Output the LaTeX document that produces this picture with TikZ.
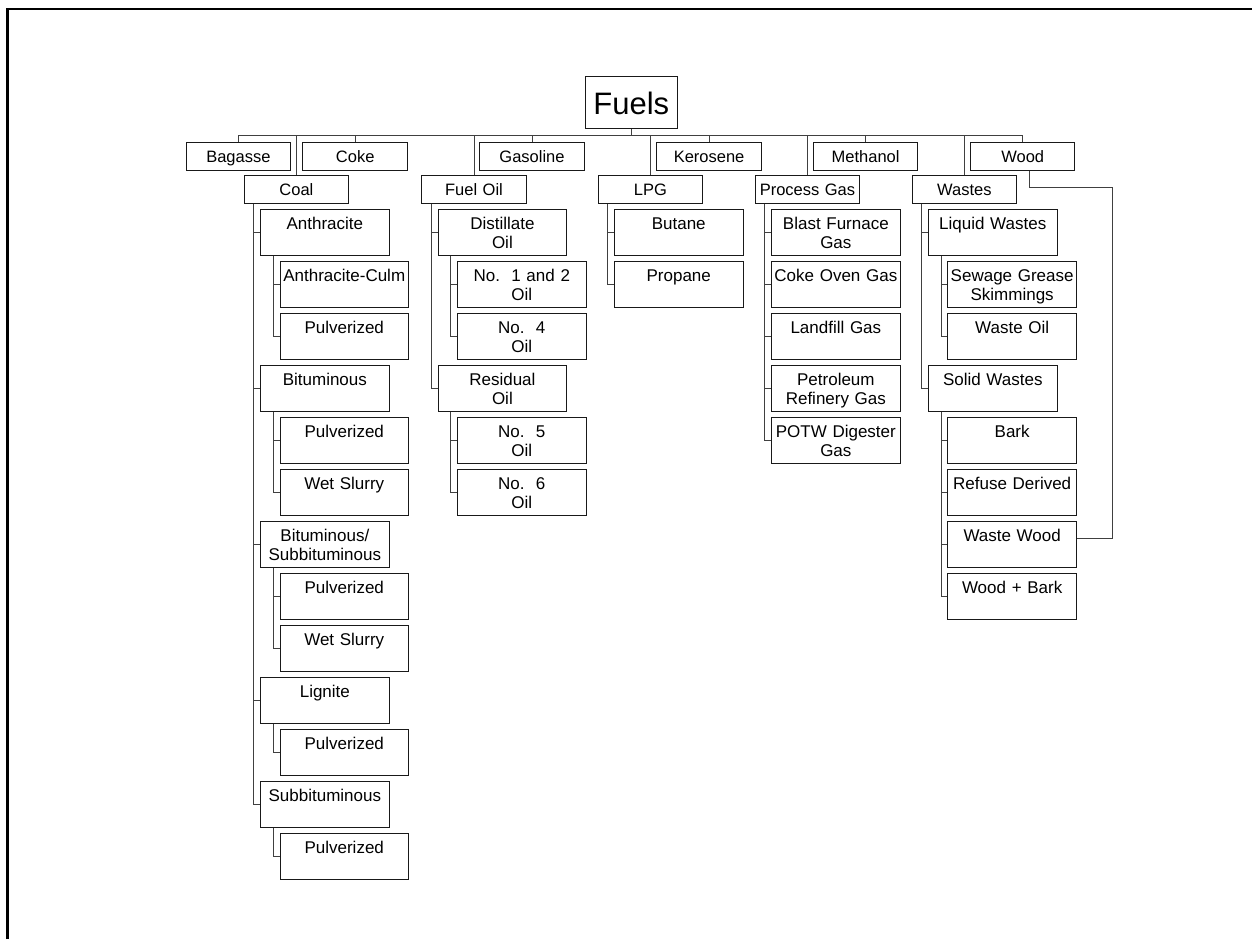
\documentclass[tikz,border=0pt]{standalone}
\usepackage{fontspec}
\setmainfont{Liberation Sans}
\begin{document}
\begin{tikzpicture}[x=1pt, y=-1pt,
		box/.style={draw=black!90, line width=1pt, anchor=north, align=center,
			inner xsep=2pt, inner ysep=0pt, text height=20pt},
		lvlone/.style={box, font=\fontsize{16.5}{18.5}\selectfont, text width=100.5pt, text depth=8pt},
		lvltwo/.style={box, font=\fontsize{17}{18.5}\selectfont, text width=124.5pt, text depth=26pt},
		link/.style={draw=black!75, line width=1pt}]
		\useasboundingbox (0,0) rectangle (1252,939);
		\draw[line width=2.5pt] (7.7,939) -- (7.7,8.8) -- (1252,8.8);
		% root
		\node[draw=black!90, line width=1pt, minimum width=91.7pt, minimum height=52pt,
			font=\fontsize{31}{34}\selectfont] (fuels) at (631.25,103) {Fuels};
		% first level
		\node[lvlone] (bagasse) at (238.4,141.5) {Bagasse};
		\node[lvlone] (coke) at (355.2,141.5) {Coke};
		\node[lvlone] (gasoline) at (532,141.5) {Gasoline};
		\node[lvlone] (kerosene) at (709.1,141.5) {Kerosene};
		\node[lvlone] (methanol) at (865.6,141.5) {Methanol};
		\node[lvlone] (wood) at (1022.7,141.5) {Wood};
		\node[lvlone] (coal) at (296.45,175) {Coal};
		\node[lvlone] (fueloil) at (474,175) {Fuel Oil};
		\node[lvlone] (lpg) at (650.35,175) {LPG};
		\node[lvlone] (procgas) at (807.45,175) {Process Gas};
		\node[lvlone] (wastes) at (964.35,175) {Wastes};
		% coal
		\node[lvltwo] (anth) at (324.85,209) {Anthracite};
		\node[lvltwo] (anthculm) at (344.25,261) {Anthracite-Culm};
		\node[lvltwo] (anthpulv) at (344.25,313) {Pulverized};
		\node[lvltwo] (bitu) at (324.85,365) {Bituminous};
		\node[lvltwo] (bitupulv) at (344.25,417) {Pulverized};
		\node[lvltwo] (bituslurry) at (344.25,469) {Wet Slurry};
		\node[lvltwo] (bitsub) at (324.85,521) {Bituminous/\\Subbituminous};
		\node[lvltwo] (bitsubpulv) at (344.25,573) {Pulverized};
		\node[lvltwo] (bitsubslurry) at (344.25,625) {Wet Slurry};
		\node[lvltwo] (lign) at (324.85,677) {Lignite};
		\node[lvltwo] (lignpulv) at (344.25,729) {Pulverized};
		\node[lvltwo] (subb) at (324.85,781) {Subbituminous};
		\node[lvltwo] (subbpulv) at (344.25,833) {Pulverized};
		% fuel oil
		\node[lvltwo] (distoil) at (502.4,209) {Distillate\\Oil};
		\node[lvltwo] (nooneandtwo) at (521.8,261) {No.\ \ 1 and 2\\Oil};
		\node[lvltwo] (nofour) at (521.8,313) {No.\ \ 4\\Oil};
		\node[lvltwo] (residoil) at (502.4,365) {Residual\\Oil};
		\node[lvltwo] (nofive) at (521.8,417) {No.\ \ 5\\Oil};
		\node[lvltwo] (nosix) at (521.8,469) {No.\ \ 6\\Oil};
		% lpg
		\node[lvltwo] (butane) at (678.75,209) {Butane};
		\node[lvltwo] (propane) at (678.75,261) {Propane};
		% process gas
		\node[lvltwo] (blast) at (835.85,209) {Blast Furnace\\Gas};
		\node[lvltwo] (cokeoven) at (835.85,261) {Coke Oven Gas};
		\node[lvltwo] (landfill) at (835.85,313) {Landfill Gas};
		\node[lvltwo] (petro) at (835.85,365) {Petroleum\\Refinery Gas};
		\node[lvltwo] (potw) at (835.85,417) {POTW Digester\\Gas};
		% wastes
		\node[lvltwo] (liquid) at (992.75,209) {Liquid Wastes};
		\node[lvltwo] (sewage) at (1012.15,261) {Sewage Grease\\Skimmings};
		\node[lvltwo] (wasteoil) at (1012.15,313) {Waste Oil};
		\node[lvltwo] (solid) at (992.75,365) {Solid Wastes};
		\node[lvltwo] (bark) at (1012.15,417) {Bark};
		\node[lvltwo] (refuse) at (1012.15,469) {Refuse Derived};
		\node[lvltwo] (wastewood) at (1012.15,521) {Waste Wood};
		\node[lvltwo] (woodbark) at (1012.15,573) {Wood + Bark};
		% links from the root
		\coordinate (bus) at ([yshift=-6pt]fuels.south);
		\draw[link] (fuels.south) -- (bus) -| (bagasse.north);
		\draw[link] (fuels.south) -- (bus) -| (coal.north);
		\draw[link] (fuels.south) -- (bus) -| (coke.north);
		\draw[link] (fuels.south) -- (bus) -| (fueloil.north);
		\draw[link] (fuels.south) -- (bus) -| (gasoline.north);
		\draw[link] (fuels.south) -- (bus) -| (lpg.north);
		\draw[link] (fuels.south) -- (bus) -| (kerosene.north);
		\draw[link] (fuels.south) -- (bus) -| (procgas.north);
		\draw[link] (fuels.south) -- (bus) -| (methanol.north);
		\draw[link] (fuels.south) -- (bus) -| (wastes.north);
		\draw[link] (fuels.south) -- (bus) -| (wood.north);
		% coal links
		\draw[link] ([xshift=10pt]coal.south west) |- (anth.west);
		\draw[link] ([xshift=10pt]coal.south west) |- (bitu.west);
		\draw[link] ([xshift=10pt]coal.south west) |- (bitsub.west);
		\draw[link] ([xshift=10pt]coal.south west) |- (lign.west);
		\draw[link] ([xshift=10pt]coal.south west) |- (subb.west);
		\draw[link] ([xshift=13pt]anth.south west) |- (anthculm.west);
		\draw[link] ([xshift=13pt]anth.south west) |- (anthpulv.west);
		\draw[link] ([xshift=13pt]bitu.south west) |- (bitupulv.west);
		\draw[link] ([xshift=13pt]bitu.south west) |- (bituslurry.west);
		\draw[link] ([xshift=13pt]bitsub.south west) |- (bitsubpulv.west);
		\draw[link] ([xshift=13pt]bitsub.south west) |- (bitsubslurry.west);
		\draw[link] ([xshift=13pt]lign.south west) |- (lignpulv.west);
		\draw[link] ([xshift=13pt]subb.south west) |- (subbpulv.west);
		% fuel oil links
		\draw[link] ([xshift=10pt]fueloil.south west) |- (distoil.west);
		\draw[link] ([xshift=10pt]fueloil.south west) |- (residoil.west);
		\draw[link] ([xshift=13pt]distoil.south west) |- (nooneandtwo.west);
		\draw[link] ([xshift=13pt]distoil.south west) |- (nofour.west);
		\draw[link] ([xshift=13pt]residoil.south west) |- (nofive.west);
		\draw[link] ([xshift=13pt]residoil.south west) |- (nosix.west);
		% lpg links
		\draw[link] ([xshift=10pt]lpg.south west) |- (butane.west);
		\draw[link] ([xshift=10pt]lpg.south west) |- (propane.west);
		% process gas links
		\draw[link] ([xshift=10pt]procgas.south west) |- (blast.west);
		\draw[link] ([xshift=10pt]procgas.south west) |- (cokeoven.west);
		\draw[link] ([xshift=10pt]procgas.south west) |- (landfill.west);
		\draw[link] ([xshift=10pt]procgas.south west) |- (petro.west);
		\draw[link] ([xshift=10pt]procgas.south west) |- (potw.west);
		% wastes links
		\draw[link] ([xshift=10pt]wastes.south west) |- (liquid.west);
		\draw[link] ([xshift=10pt]wastes.south west) |- (solid.west);
		\draw[link] ([xshift=13pt]liquid.south west) |- (sewage.west);
		\draw[link] ([xshift=13pt]liquid.south west) |- (wasteoil.west);
		\draw[link] ([xshift=13pt]solid.south west) |- (bark.west);
		\draw[link] ([xshift=13pt]solid.south west) |- (refuse.west);
		\draw[link] ([xshift=13pt]solid.south west) |- (wastewood.west);
		\draw[link] ([xshift=13pt]solid.south west) |- (woodbark.west);
		% wood to waste wood
		\coordinate (woodbend) at (1112.3,187);
		\draw[link] ([xshift=6.5pt]wood.south) |- (woodbend) |- ([yshift=6pt]wastewood.east);
	\end{tikzpicture}
\end{document}
